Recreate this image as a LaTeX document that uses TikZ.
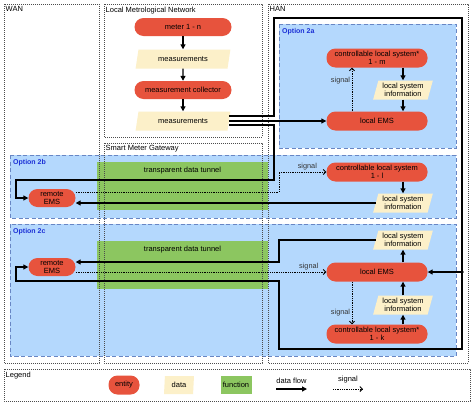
\documentclass[tikz,border=0pt]{standalone}
\usepackage{fontspec}
\setmainfont{Liberation Sans}
\usepackage{tikz}
\usetikzlibrary{
  arrows.meta, shapes.geometric,
  positioning, calc
}
\definecolor{EntityRed}{RGB}{231,83,61}
\definecolor{DataCream}{RGB}{252,240,201}
\definecolor{FunctionGreen}{RGB}{140,198,96}
\definecolor{OptionFill}{RGB}{180,216,253}
\definecolor{OptionEdge}{RGB}{104,134,196}
\definecolor{OptionText}{RGB}{28,48,214}

\begin{document}
\begin{tikzpicture}[x=1pt, y=-1pt,
    font=\fontsize{7.5}{8}\selectfont,
    entity/.style={rectangle, rounded corners=9pt, fill=EntityRed,
      minimum width=101pt, minimum height=19pt, inner sep=0pt, align=center},
    data/.style={trapezium, trapezium left angle=72, trapezium right angle=108,
      trapezium stretches=true, fill=DataCream, minimum width=60pt,
      minimum height=19pt, inner sep=0pt, align=center},
    tunnel/.style={rectangle, fill=FunctionGreen, inner sep=0pt},
    region/.style={draw=black!70, line width=0.7pt, dash pattern=on 0.8pt off 1.2pt},
    optbox/.style={fill=OptionFill, draw=OptionEdge, line width=0.9pt,
      dash pattern=on 4pt off 2.5pt},
    flow/.style={line width=1.2pt, -{Triangle[length=5pt,width=5pt]}},
    flowline/.style={line width=1.2pt},
    signal/.style={line width=0.9pt, dash pattern=on 0.9pt off 0.9pt,
      -{Straight Barb[length=2.5pt,width=5pt]}},
    siglabel/.style={font=\fontsize{7.3}{8}\selectfont, text=black!80, inner sep=1.5pt}]
  \useasboundingbox (0,0) rectangle (474,407);
  \fill[white] (0,0) rectangle (474,407);

  % option areas
  \foreach \x/\y/\X/\Y/\t in {279/24/456/148/2a, 10/155/456/218/2b, 10/224/456/356/2c}
  {
    \draw[optbox] (\x,\y) rectangle (\X,\Y);
    \node[anchor=north west, font=\fontsize{7}{8}\selectfont\bfseries,
      text=OptionText, inner sep=1pt] (opt\t) at (\x+2,\y+3) {Option \t};
  }

  % tunnels through the gateway
  \node[tunnel, minimum width=171pt, minimum height=48pt] (tunnelB) at (182.5,186) {};
  \node (tunnelBtext) at ([yshift=-9pt]tunnelB.north) {transparent data tunnel};
  \node[tunnel, minimum width=171pt, minimum height=48pt] (tunnelC) at (182.5,264.5) {};
  \node (tunnelCtext) at ([yshift=-9pt]tunnelC.north) {transparent data tunnel};

  % network areas
  \foreach \x/\y/\X/\Y/\t [count=\n] in
    {4/4/99/363/WAN, 104/4/262/137/Local Metrological Network,
     104/143/262/363/Smart Meter Gateway, 268/4/468/363/HAN, 4/369/470/401/Legend}
  {
    \draw[region] (\x,\y) rectangle (\X,\Y);
    \node[anchor=north west, inner sep=0.5pt] (area\n) at (\x+1,\y+2) {\t};
  }

  % local metrological network
  \node[entity, minimum width=97pt, minimum height=18pt] (meter) at (183,27) {meter 1 - n};
  \node[data, minimum width=95pt] (meas1) at (183,59) {measurements};
  \node[entity, minimum width=97pt, minimum height=18pt] (collector) at (183,90) {measurement collector};
  \node[data, minimum width=95pt] (meas2) at (183,121) {measurements};

  % option 2a
  \node[entity] (ctrlA) at (377,58) {controllable local system*\\1 - m};
  \node[data] (infoA) at (403,90) {local system\\information};
  \node[entity] (emsA) at (377,121) {local EMS};

  % option 2b
  \node[entity, minimum width=47pt, minimum height=18pt] (remoteB) at (52,198) {remote\\EMS};
  \node[entity] (ctrlB) at (377,172) {controllable local system\\1 - l};
  \node[data] (infoB) at (403,203) {local system\\information};

  % option 2c
  \node[entity, minimum width=47pt, minimum height=18pt] (remoteC) at (52,267) {remote\\EMS};
  \node[data] (infoCtop) at (403,240) {local system\\information};
  \node[entity] (emsC) at (377,272) {local EMS};
  \node[data] (infoCmid) at (403,305) {local system\\information};
  \node[entity] (ctrlC) at (377,334) {controllable local system*\\1 - k};

  % legend
  \node[entity, minimum width=31pt, minimum height=19pt] (legEntity) at (124,385) {entity};
  \node[data, minimum width=30pt, minimum height=18pt, trapezium left angle=85,
    trapezium right angle=95] (legData) at (179,385) {data};
  \node[tunnel, minimum width=31pt, minimum height=18pt] (legFunction) at (236,385) {function};
  \coordinate (legFlowA) at (276,389);
  \coordinate (legFlowB) at (307,389);
  \coordinate (legSigA) at (333,389);
  \coordinate (legSigB) at (363,389);
  \draw[flow] (legFlowA) -- (legFlowB) node[midway, above=4pt, inner sep=1pt] (legFlowText) {data flow};
  \draw[signal] (legSigA) -- (legSigB) node[midway, above=4pt, inner sep=1pt] (legSigText) {signal};

  % measurement chain
  \draw[flow] (meter) -- (meas1);
  \draw[flow] (meas1) -- (collector);
  \draw[flow] (collector) -- (meas2);

  % option 2a
  \draw[flow] (meas2.east) -- (meas2.east -| emsA.west);
  \draw[flow] (ctrlA.south -| infoA.north) -- (infoA.north);
  \draw[flow] (infoA.south) -- (infoA.south |- emsA.north);
  \draw[signal] ([xshift=-25pt]emsA.north) -- ([xshift=-25pt]ctrlA.south)
    node[siglabel, left, pos=0.7] (sigTextA) {signal};

  % data path round the HAN
  \coordinate (hanNW) at (274,18);
  \coordinate (hanNE) at (462,18);
  \coordinate (hanJoin) at (462,272);
  \coordinate (hanSE) at (462,349);
  \coordinate (hanSW) at (279,349);
  \coordinate (wanC) at (16,281);
  \draw[flowline] ([yshift=5pt]meas2.east) -| (hanNW) -- (hanNE) -- (hanJoin);
  \draw[flow] (hanJoin) -- (emsC.east);
  \draw[flow] (hanJoin) -- (hanSE) -- (hanSW) |- (wanC) |- (remoteC.west);
  \fill (hanJoin) circle (1.8pt);

  % option 2b
  \coordinate (gwB) at (274,180);
  \coordinate (wanB) at (16,180);
  \coordinate (sigTurnB) at (279,172);
  \draw[flow] ([yshift=-4pt]meas2.east) -| (gwB) -- (wanB) |- (remoteB.west);
  \draw[flow] (infoB.west) -- (infoB.west -| remoteB.east);
  \draw[signal] ([yshift=6pt]remoteB.east) -| (sigTurnB) -- (ctrlB.west)
    node[siglabel, above, pos=0.6] (sigTextB) {signal};
  \draw[flow] (ctrlB.south -| infoB.north) -- (infoB.north);

  % option 2c
  \coordinate (gwC) at (279,262);
  \draw[flow] (infoCtop.west) -| (gwC) -- (gwC -| remoteC.east);
  \draw[signal] ([yshift=-5pt]remoteC.east) -- ([yshift=-5pt]remoteC.east -| emsC.west)
    node[siglabel, above, pos=0.93] (sigTextC) {signal};
  \draw[flow] (emsC.north -| infoCtop.south) -- (infoCtop.south);
  \draw[flow] (infoCmid.north) -- (infoCmid.north |- emsC.south);
  \draw[flow] (ctrlC.north -| infoCmid.south) -- (infoCmid.south);
  \draw[signal] ([xshift=-25pt]emsC.south) -- ([xshift=-25pt]ctrlC.north)
    node[siglabel, left, pos=0.72] (sigTextD) {signal};
\end{tikzpicture}
\end{document}
